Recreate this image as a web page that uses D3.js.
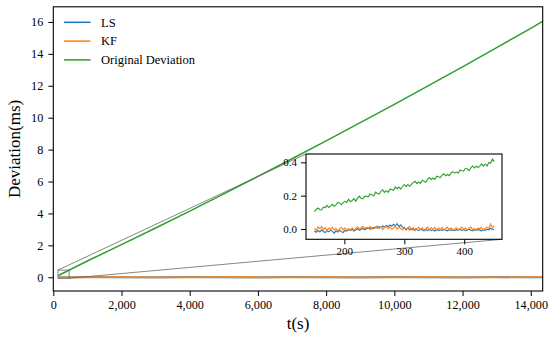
<!DOCTYPE html>
<html>
<head>
<meta charset="utf-8">
<script src="https://cdnjs.cloudflare.com/ajax/libs/d3/7.8.5/d3.min.js"></script>
<style>
	body { margin: 0; background: #fff; }
	svg { display: block; }
	svg text { font-family: "Liberation Serif", "Times New Roman", serif; }
</style>
</head>
<body>
<div id="chart"></div>
<script>
// main view: time (s) and deviation (ms)
var tMain = [150, 1000, 2000, 3000, 4000, 5000, 6000, 7000, 8000, 9000, 10000, 11000, 12000, 13000, 14000, 14400];
var origMain = [0.11, 1.02, 2.05, 3.09, 4.15, 5.23, 6.32, 7.43, 8.55, 9.69, 10.84, 12.01, 13.19, 14.39, 15.6, 16.1];
var lsMain = [-0.01, 0.01, -0.01, 0.0, 0.01, -0.01, 0.0, 0.01, -0.01, 0.0, 0.01, -0.01, 0.0, 0.01, -0.01, 0.0];
var kfMain = [0.0, -0.01, 0.01, 0.0, -0.01, 0.01, 0.0, -0.01, 0.01, 0.0, -0.01, 0.01, 0.0, -0.01, 0.01, 0.01];

var xTicksMain = [0, 2000, 4000, 6000, 8000, 10000, 12000, 14000];
var yTicksMain = [0, 2, 4, 6, 8, 10, 12, 14, 16];

// zoomed part, t = 150 .. 450 every 3 s
var tZoom = d3.range(150, 451, 3);
var origZoom = [
	0.104, 0.117, 0.126, 0.117, 0.114, 0.131, 0.128, 0.142, 0.129, 0.139,
	0.148, 0.135, 0.144, 0.159, 0.155, 0.145, 0.158, 0.166, 0.159, 0.178,
	0.163, 0.171, 0.182, 0.167, 0.185, 0.197, 0.183, 0.181, 0.197, 0.196,
	0.193, 0.210, 0.206, 0.198, 0.221, 0.213, 0.209, 0.226, 0.235, 0.220,
	0.230, 0.220, 0.239, 0.237, 0.232, 0.252, 0.242, 0.252, 0.239, 0.255,
	0.267, 0.254, 0.266, 0.256, 0.268, 0.279, 0.286, 0.272, 0.282, 0.274,
	0.292, 0.287, 0.281, 0.299, 0.309, 0.297, 0.306, 0.298, 0.317, 0.313,
	0.308, 0.323, 0.331, 0.319, 0.327, 0.320, 0.336, 0.344, 0.335, 0.343,
	0.335, 0.354, 0.349, 0.347, 0.364, 0.360, 0.350, 0.367, 0.378, 0.366,
	0.377, 0.369, 0.379, 0.391, 0.377, 0.390, 0.378, 0.399, 0.394, 0.419, 0.404
];
var lsZoom = [
	-0.012, -0.020, -0.008, -0.018, -0.005, -0.015, -0.022, -0.010, -0.017, -0.006,
	-0.014, -0.025, -0.011, -0.019, -0.008, -0.016, -0.021, -0.009, -0.013, -0.004,
	-0.010, -0.002, -0.012, -0.006, 0.002, -0.008, -0.003, 0.004, -0.005, 0.001,
	0.006, -0.002, 0.009, 0.003, 0.012, 0.005, 0.015, 0.008, 0.018, 0.010,
	0.021, 0.013, 0.024, 0.016, 0.028, 0.019, 0.032, 0.014, 0.025, 0.011,
	0.004, -0.003, 0.006, -0.005, 0.002, -0.007, 0.001, -0.004, -0.009, -0.002,
	-0.006, -0.011, -0.004, -0.008, -0.002, -0.010, -0.005, -0.012, -0.003, -0.008,
	-0.004, -0.009, -0.002, -0.007, -0.011, -0.003, -0.008, -0.005, -0.010, -0.004,
	-0.007, -0.002, -0.009, -0.004, -0.010, -0.006, -0.001, -0.008, -0.012, -0.005,
	-0.009, -0.003, -0.007, -0.011, -0.004, -0.008, -0.002, -0.006, 0.004, -0.003, -0.001
];
var kfZoom = [
	0.004, -0.008, 0.012, 0.002, 0.015, -0.004, 0.008, -0.010, 0.006, -0.003,
	0.010, -0.006, 0.004, -0.012, 0.002, 0.009, -0.005, 0.007, -0.009, 0.003,
	-0.007, 0.006, -0.010, 0.004, 0.013, -0.002, 0.008, 0.016, 0.001, 0.010,
	0.003, 0.014, -0.001, 0.011, 0.005, 0.018, 0.002, 0.012, -0.004, 0.009,
	0.015, 0.001, 0.011, -0.003, 0.007, 0.016, -0.002, 0.010, 0.004, -0.006,
	0.012, -0.008, 0.006, 0.014, -0.005, 0.009, -0.011, 0.004, 0.011, -0.003,
	0.007, -0.009, 0.003, 0.012, -0.006, 0.008, -0.002, 0.010, -0.008, 0.005,
	-0.004, 0.009, -0.007, 0.003, 0.011, -0.005, 0.006, -0.009, 0.002, 0.008,
	-0.006, 0.004, 0.010, -0.003, 0.007, -0.008, 0.005, 0.012, -0.004, 0.003,
	-0.007, 0.006, 0.001, 0.009, -0.005, 0.004, 0.011, 0.002, 0.030, 0.008, 0.020
];
var xTicksZoom = [200, 300, 400];
var yTicksZoom = [0, 0.2, 0.4];

var seriesNames = ["LS", "KF", "Original Deviation"];
var colors = ["#1f77b4", "#ff7f0e", "#2ca02c"];

var serif = "Liberation Serif";
var width = 550, height = 339;

var svg = d3.select("#chart")
	.append("svg")
	.attr("width", width)
	.attr("height", height)
	.attr("font-family", serif);

var x = d3.scaleLinear().domain([0, 14350]).range([53.3, 542.7]);
var y = d3.scaleLinear().domain([-0.86, 16.95]).range([291, 6.8]);

function zip(ts, vs) {
	return ts.map(function (t, i) { return [t, vs[i]]; });
}

svg.append("clipPath").attr("id", "clipMain")
	.append("rect")
	.attr("x", x.range()[0]).attr("y", y.range()[1])
	.attr("width", x.range()[1] - x.range()[0])
	.attr("height", y.range()[0] - y.range()[1]);

var lineMain = d3.line()
	.x(function (d) { return x(d[0]); })
	.y(function (d) { return y(d[1]); });

var gLines = svg.append("g").attr("clip-path", "url(#clipMain)");
[lsMain, kfMain, origMain].forEach(function (vals, i) {
	gLines.append("path")
		.datum(zip(tMain, vals))
		.attr("fill", "none")
		.attr("stroke", colors[i])
		.attr("stroke-width", i == 2 ? 1.5 : 1.8)
		.attr("d", lineMain);
});

// axes
var xAxis = svg.append("g")
	.attr("transform", "translate(0," + y.range()[0] + ")")
	.call(d3.axisBottom(x).tickValues(xTicksMain).tickFormat(d3.format(",")).tickSize(5).tickPadding(4));
var yAxis = svg.append("g")
	.attr("transform", "translate(" + x.range()[0] + ",0)")
	.call(d3.axisLeft(y).tickValues(yTicksMain).tickSize(5).tickPadding(5));
[xAxis, yAxis].forEach(function (a) {
	a.attr("font-family", serif).attr("font-size", 12.2);
	a.select(".domain").remove();
	a.selectAll("line").attr("stroke", "#000").attr("stroke-width", 1);
	a.selectAll("text").attr("fill", "#000");
});

svg.append("rect")
	.attr("x", x.range()[0]).attr("y", y.range()[1])
	.attr("width", x.range()[1] - x.range()[0])
	.attr("height", y.range()[0] - y.range()[1])
	.attr("fill", "none")
	.attr("stroke", "#000")
	.attr("stroke-width", 1.1);

svg.append("text")
	.attr("x", (x.range()[0] + x.range()[1]) / 2)
	.attr("y", 329)
	.attr("text-anchor", "middle")
	.attr("font-size", 17)
	.text("t(s)");

svg.append("text")
	.attr("transform", "translate(20," + ((y.range()[0] + y.range()[1]) / 2) + ") rotate(-90)")
	.attr("text-anchor", "middle")
	.attr("font-size", 17)
	.text("Deviation(ms)");

// legend
seriesNames.forEach(function (name, i) {
	var ly = 22.3 + i * 18.8;
	svg.append("line")
		.attr("x1", 64).attr("x2", 90.5)
		.attr("y1", ly).attr("y2", ly)
		.attr("stroke", colors[i])
		.attr("stroke-width", 1.5);
	svg.append("text")
		.attr("x", 101)
		.attr("y", ly)
		.attr("dy", "0.35em")
		.attr("font-size", 12.5)
		.text(name);
});

// inset
var xi = d3.scaleLinear().domain([136, 463]).range([306, 502]);
var yi = d3.scaleLinear().domain([-0.062, 0.45]).range([239.3, 154]);

// marker rectangle on the main axes and connectors
var mx0 = x(xi.domain()[0]), mx1 = x(xi.domain()[1]);
var my0 = y(yi.domain()[1]), my1 = y(yi.domain()[0]);
svg.append("rect")
	.attr("x", mx0).attr("y", my0)
	.attr("width", mx1 - mx0).attr("height", my1 - my0)
	.attr("fill", "none")
	.attr("stroke", "#666")
	.attr("stroke-width", 0.8);
svg.append("line")
	.attr("x1", mx0).attr("y1", my0)
	.attr("x2", xi.range()[0]).attr("y2", yi.range()[1])
	.attr("stroke", "#666").attr("stroke-width", 0.8);
svg.append("line")
	.attr("x1", mx1).attr("y1", my1)
	.attr("x2", xi.range()[1]).attr("y2", yi.range()[0])
	.attr("stroke", "#666").attr("stroke-width", 0.8);

svg.append("rect")
	.attr("x", xi.range()[0]).attr("y", yi.range()[1])
	.attr("width", xi.range()[1] - xi.range()[0])
	.attr("height", yi.range()[0] - yi.range()[1])
	.attr("fill", "#fff");

var lineZoom = d3.line()
	.x(function (d) { return xi(d[0]); })
	.y(function (d) { return yi(d[1]); });

[lsZoom, kfZoom, origZoom].forEach(function (vals, i) {
	svg.append("path")
		.datum(zip(tZoom, vals))
		.attr("fill", "none")
		.attr("stroke", colors[i])
		.attr("stroke-width", 1.1)
		.attr("d", lineZoom);
});

var xiAxis = svg.append("g")
	.attr("transform", "translate(0," + yi.range()[0] + ")")
	.call(d3.axisBottom(xi).tickValues(xTicksZoom).tickSize(5).tickPadding(3));
var yiAxis = svg.append("g")
	.attr("transform", "translate(" + xi.range()[0] + ",0)")
	.call(d3.axisLeft(yi).tickValues(yTicksZoom).tickFormat(d3.format(".1f")).tickSize(5).tickPadding(4));
[xiAxis, yiAxis].forEach(function (a) {
	a.attr("font-family", serif).attr("font-size", 11);
	a.select(".domain").remove();
	a.selectAll("line").attr("stroke", "#000").attr("stroke-width", 1);
	a.selectAll("text").attr("fill", "#000");
});

svg.append("rect")
	.attr("x", xi.range()[0]).attr("y", yi.range()[1])
	.attr("width", xi.range()[1] - xi.range()[0])
	.attr("height", yi.range()[0] - yi.range()[1])
	.attr("fill", "none")
	.attr("stroke", "#000")
	.attr("stroke-width", 1.1);
</script>
</body>
</html>
